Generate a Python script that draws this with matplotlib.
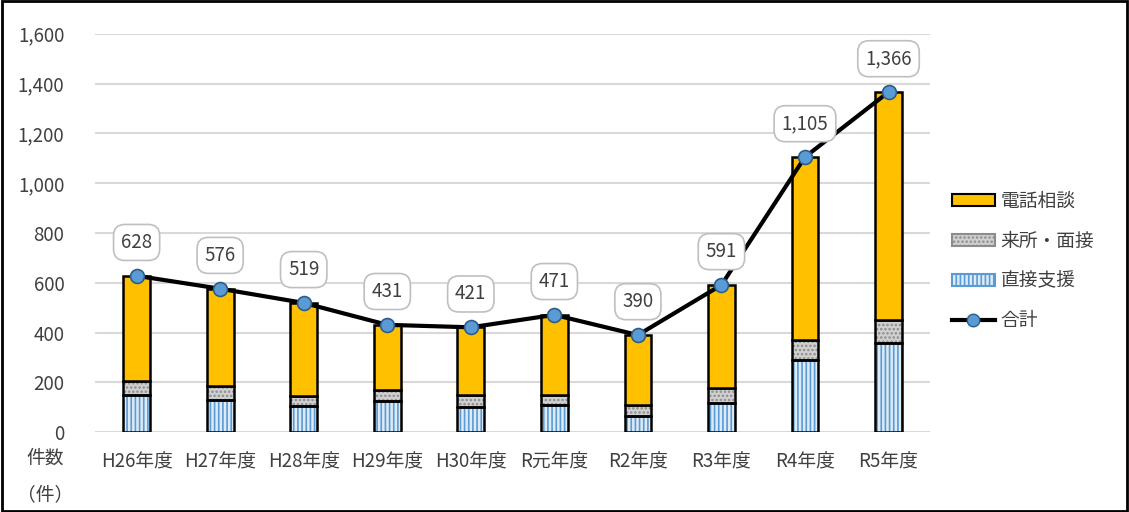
import matplotlib
matplotlib.use('Agg')
import matplotlib.pyplot as plt
import numpy as np
from matplotlib.patches import Rectangle, Patch
from matplotlib.lines import Line2D

plt.rcParams['font.family'] = ['Noto Sans CJK JP', 'DejaVu Sans']
plt.rcParams['hatch.linewidth'] = 1.2

years = ['H26年度', 'H27年度', 'H28年度', 'H29年度', 'H30年度',
         'R元年度', 'R2年度', 'R3年度', 'R4年度', 'R5年度']
direct = [151, 130, 106, 124, 100, 107, 64, 115, 289, 358]     # 直接支援
visit = [53, 57, 41, 46, 48, 44, 43, 63, 81, 92]               # 来所・面接
total = [628, 576, 519, 431, 421, 471, 390, 591, 1105, 1366]   # 合計
phone = [t - d - v for t, d, v in zip(total, direct, visit)]    # 電話相談

yticks = [0, 200, 400, 600, 800, 1000, 1200, 1400, 1600]

fig = plt.figure(figsize=(11.29, 5.12), dpi=100)
ax = fig.add_axes([0.084, 0.156, 0.74, 0.778])

x = np.arange(len(years))
w = 0.32
d = np.array(direct)
v = np.array(visit)
p = np.array(phone)

# 直接支援: vertical stripes
ax.bar(x, d, w, color='#DDEBF7', edgecolor='#5B9BD5', hatch='||||', linewidth=0, zorder=2)
ax.bar(x, d, w, fill=False, edgecolor='black', linewidth=1.8, zorder=3)
# 来所・面接: dotted gray
ax.bar(x, v, w, bottom=d, color='#D0D0D0', edgecolor='#8C8C8C', hatch='....', linewidth=0, zorder=2)
ax.bar(x, v, w, bottom=d, fill=False, edgecolor='black', linewidth=1.8, zorder=3)
# 電話相談
ax.bar(x, p, w, bottom=d + v, color='#FFC000', edgecolor='black', linewidth=1.8, zorder=3)

# 合計 line
ax.plot(x, total, color='black', linewidth=3, marker='o', markersize=10,
        markerfacecolor='#5B9BD5', markeredgecolor='#2E5C8A', markeredgewidth=1.2, zorder=5)

for xi, t in zip(x, total):
    ax.annotate(f'{t:,}', (xi, t), xytext=(0, 24), textcoords='offset points',
                ha='center', va='center', fontsize=13.5, color='#404040',
                bbox=dict(boxstyle='round,pad=0.4,rounding_size=0.6', fc='white',
                          ec='#BFBFBF', lw=1.2), zorder=6)

ax.set_xlim(-0.5, len(years) - 0.5)
ax.set_ylim(0, 1600)
ax.set_yticks(yticks)
ax.set_yticklabels([f'{t:,}' for t in yticks], fontsize=13.5, color='#404040')
ax.set_xticks(x)
ax.set_xticklabels(years, fontsize=13.5, color='#404040')
ax.tick_params(axis='both', length=0)
ax.tick_params(axis='x', pad=14)
ax.tick_params(axis='y', pad=22)
ax.yaxis.grid(True, color='#D9D9D9', linewidth=1.5, zorder=0)
ax.set_axisbelow(True)
for s in ax.spines.values():
    s.set_visible(False)

fig.text(0.040, 0.106, '件数', ha='center', va='center', fontsize=13.5, color='#404040')
fig.text(0.040, 0.033, '（件）', ha='center', va='center', fontsize=13.5, color='#404040')

handles = [
    Patch(facecolor='#FFC000', edgecolor='black', linewidth=1.5),
    Patch(facecolor='#D0D0D0', edgecolor='#8C8C8C', hatch='....', linewidth=1.5),
    Patch(facecolor='#DDEBF7', edgecolor='#5B9BD5', hatch='||||', linewidth=1.5),
    Line2D([0], [0], color='black', linewidth=3, marker='o', markersize=9,
           markerfacecolor='#5B9BD5', markeredgecolor='#2E5C8A'),
]
fig.legend(handles, ['電話相談', '来所・面接', '直接支援', '合計'],
           loc='center left', bbox_to_anchor=(0.828, 0.49), frameon=False,
           fontsize=13.5, labelcolor='#404040', handlelength=2.3, handleheight=0.6,
           labelspacing=1.0, handletextpad=0.3)

fig.add_artist(Rectangle((0.002, 0.002), 0.996, 0.996, transform=fig.transFigure,
                         fill=False, edgecolor='black', linewidth=2))

fig.savefig('out.png', dpi=100)
